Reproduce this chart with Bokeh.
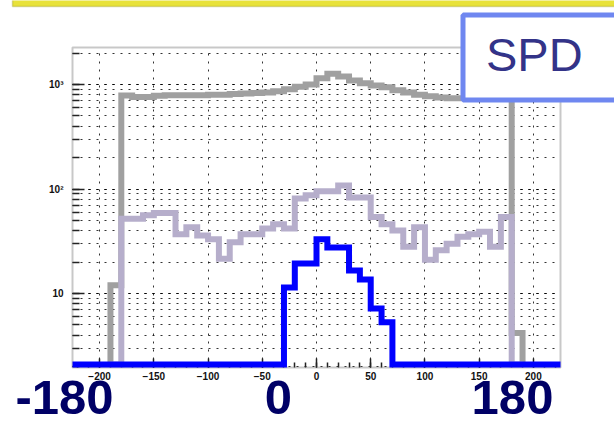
import numpy as np
from bokeh.plotting import figure
from bokeh.models import Range1d, SingleIntervalTicker, Label, BoxAnnotation
from bokeh.embed import file_html
from bokeh.resources import INLINE

# 10-degree phi bins, left edges from -190 to 180
bin_edges = list(range(-190, 191, 10))

# all hits
all_counts = [12, 785, 760, 760, 780, 790, 790, 790, 790, 800,
              800, 810, 820, 830, 840, 860, 900, 950, 1000, 1150,
              1270, 1190, 1090, 1030, 980, 940, 880, 840, 800, 770,
              750, 740, 740, 740, 740, 740, 740, 4.2]

# selected hits
mid_counts = [0, 52, 52, 56, 59, 59, 37, 43, 36, 33,
              21.5, 31, 37, 37, 42, 46, 42, 81, 87, 95,
              95, 108, 83, 83, 54, 46, 40, 28, 43, 21,
              26, 30, 35, 37, 39, 28, 54, 0]

# matched hits
inner_counts = [0, 0, 0, 0, 0, 0, 0, 0, 0, 0,
                0, 0, 0, 0, 0, 0, 11.4, 19.4, 19.4, 33,
                27.6, 27.6, 16.6, 13.6, 7.2, 5.3, 0, 0, 0, 0,
                0, 0, 0, 0, 0, 0, 0, 0]

x_ticks_interval = 50
y_label_text = {10: "10", 100: "10²", 1000: "10³"}
big_labels = ["-180", "0", "180"]
box_text = "SPD"

# axis box limits (data) and where the box sits on the canvas (px)
X_START, X_END = -225, 225
Y_START, Y_END = 1.96, 2260
FLOOR = 2.09  # level at which empty bins are drawn
W, H = 614, 422
BOX_L, BOX_R, BOX_T, BOX_B = 72, 560, 47, 367

kx = (BOX_R - BOX_L) / (X_END - X_START)
ky = (BOX_B - BOX_T) / (np.log10(Y_END) - np.log10(Y_START))
x_lo = X_START - BOX_L / kx
x_hi = X_END + (W - BOX_R) / kx
y_lo = 10 ** (np.log10(Y_START) - (H - BOX_B) / ky)
y_hi = 10 ** (np.log10(Y_END) + BOX_T / ky)


def outline(edges, counts, floor):
    e = np.asarray(edges, dtype=float)
    c = np.asarray(counts, dtype=float)
    c = np.where(c > 0, c, floor)
    xs = np.repeat(e, 2)
    ys = np.concatenate([[floor], np.repeat(c, 2), [floor]])
    return xs, ys


p = figure(width=W, height=H,
           x_range=Range1d(x_lo, x_hi), y_range=Range1d(y_lo, y_hi),
           y_axis_type="log", output_backend="svg", toolbar_location=None,
           min_border=0)
p.title.visible = False
p.background_fill_color = "white"
p.border_fill_color = "white"
p.outline_line_color = None

# axes pinned to the edges of the box, ticks pointing inwards
xa, ya = p.xaxis[0], p.yaxis[0]
xa.fixed_location = Y_START
ya.fixed_location = X_START
xa.bounds = (X_START, X_END)
ya.bounds = (Y_START, Y_END)
xa.ticker = SingleIntervalTicker(interval=x_ticks_interval, num_minor_ticks=5)
p.xgrid.ticker = xa.ticker
for ax in (xa, ya):
    ax.axis_line_color = None
    ax.major_tick_out = 0
    ax.minor_tick_out = 0
    ax.major_tick_line_color = "#222222"
    ax.minor_tick_line_color = "#222222"
    ax.major_tick_line_width = 1.5
    ax.minor_tick_line_width = 1.5
    ax.major_label_text_font = "Liberation Sans"
    ax.major_label_text_font_style = "bold"
    ax.major_label_text_font_size = "10px"
    ax.major_label_text_color = "#111111"
    ax.level = "underlay"
xa.major_tick_in = 9
xa.minor_tick_in = 5
xa.major_label_standoff = 4
ya.major_tick_in = 12
ya.minor_tick_in = 7
ya.major_label_standoff = 9
ya.major_label_overrides = y_label_text

# dotted grid, limited to the box
for g in (p.xgrid[0], p.ygrid[0]):
    g.grid_line_color = "#000000"
    g.grid_line_dash = "2 6"
    g.grid_line_alpha = 0.8
    g.level = "image"
p.xgrid.bounds = (X_START, X_END)
p.xgrid.cross_bounds = (Y_START, Y_END)
p.ygrid.bounds = (Y_START, Y_END)
p.ygrid.cross_bounds = (X_START, X_END)
p.ygrid.minor_grid_line_color = "#000000"
p.ygrid.minor_grid_line_dash = "2 6"
p.ygrid.minor_grid_line_alpha = 0.8

# box frame
p.add_layout(BoxAnnotation(left=X_START, right=X_END, bottom=Y_START, top=Y_END,
                           fill_alpha=0, line_color="#4a4a4a", line_width=2,
                           level="underlay"))

# histograms
xs, ys = outline(bin_edges, all_counts, FLOOR)
p.line(xs, ys, line_color="#a0a0a0", line_width=6, line_join="miter")

xs, ys = outline(bin_edges, mid_counts, FLOOR)
p.line(xs, ys, line_color="#b6aecb", line_width=6, line_join="miter")

xs, ys = outline(bin_edges, inner_counts, FLOOR)
xs = np.concatenate([[X_START], xs, [X_END]])
ys = np.concatenate([[FLOOR], ys, [FLOOR]])
p.line(xs, ys, line_color="#0000ff", line_width=6, line_join="miter")

# yellow rule along the top edge
p.add_layout(BoxAnnotation(left=12, right=W + 5, top=H + 2, bottom=H - 6,
                           left_units="screen", right_units="screen",
                           top_units="screen", bottom_units="screen",
                           fill_color="#e8e23a", fill_alpha=1,
                           line_color="#8f8a10", line_width=1.5))

# detector tag
p.add_layout(Label(x=462.5, y=14.5, x_units="canvas", y_units="canvas",
                   text=box_text, text_font="Liberation Sans",
                   text_font_size="47px", text_color="#333388",
                   text_align="left", text_baseline="top",
                   background_fill_color="white", background_fill_alpha=1,
                   border_line_color="#6f87f0", border_line_width=5,
                   padding=(23, 60, 13, 19)))

# large phi labels under the axis
for txt, cx in zip(big_labels, (64, 278, 512)):
    p.add_layout(Label(x=cx, y=380, x_units="canvas", y_units="canvas",
                       text=txt, text_font="Liberation Sans",
                       text_font_style="bold", text_font_size="49px",
                       text_color="#000066", text_align="center",
                       text_baseline="top"))

open("out.html", "w").write(file_html(p, INLINE))
